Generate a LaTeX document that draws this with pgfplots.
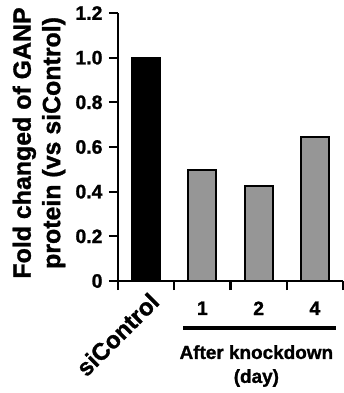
\documentclass[border=0pt]{standalone}
\usepackage{pgfplots}
\pgfplotsset{compat=1.18}
\usepackage{fontspec}
\setmainfont{Liberation Sans}[BoldFeatures={FakeBold=1.2}]
\definecolor{bargray}{RGB}{150,150,150}
\begin{document}
\begin{tikzpicture}
\path[use as bounding box] (-118bp,-112bp) rectangle (226bp,281bp);
\begin{axis}[
  at={(0,0)}, anchor=south west,
  scale only axis, width=225bp, height=268bp,
  xmin=-0.5, xmax=3.5, ymin=0, ymax=1.2,
  axis lines=left, axis line style={line width=2.6bp, -},
  ytick={0,0.2,0.4,0.6,0.8,1.0,1.2},
  yticklabels={0,0.2,0.4,0.6,0.8,1.0,1.2},
  xtick={0,1,2,3}, xticklabels={,1,2,4},
  minor xtick={-0.5,0.5,1.5,2.5,3.5},
  major x tick style={draw=none},
  tick align=outside,
  major tick length=9bp, minor tick length=9bp,
  every tick/.style={line width=2.2bp, black},
  /pgf/number format/assume math mode=true,
  tick label style={font=\bfseries\fontsize{19.5}{19.5}\selectfont},
  yticklabel style={xshift=-3bp},
  xticklabel style={yshift=-8bp},
  ybar, bar width=28bp,
  clip=false,
]
\addplot[fill=black, draw=black, line width=1.8bp, bar shift=0pt] coordinates {(0,1.0)};
\addplot[fill=bargray, draw=black, line width=1.8bp, bar shift=0pt] coordinates {(1,0.497) (2,0.427) (3,0.643)};
\node[rotate=45, anchor=north east, inner sep=0pt, font=\bfseries\fontsize{24}{24}\selectfont] at ([yshift=-10bp]axis cs:0.04,0) {siControl};
\draw[line width=4bp] ([yshift=-47bp]axis cs:0.66,0) -- ([yshift=-47bp]axis cs:3.375,0);
\node[align=center, font=\bfseries\fontsize{19}{24}\selectfont] at ([yshift=-85bp]axis cs:1.96,0) {After knockdown\\(day)};
\node[rotate=90, align=center, font=\bfseries\fontsize{25}{29.5}\selectfont] at ([xshift=-79bp]rel axis cs:0,0.515) {Fold changed of GANP\\protein (vs siControl)};
\end{axis}
\end{tikzpicture}
\end{document}
